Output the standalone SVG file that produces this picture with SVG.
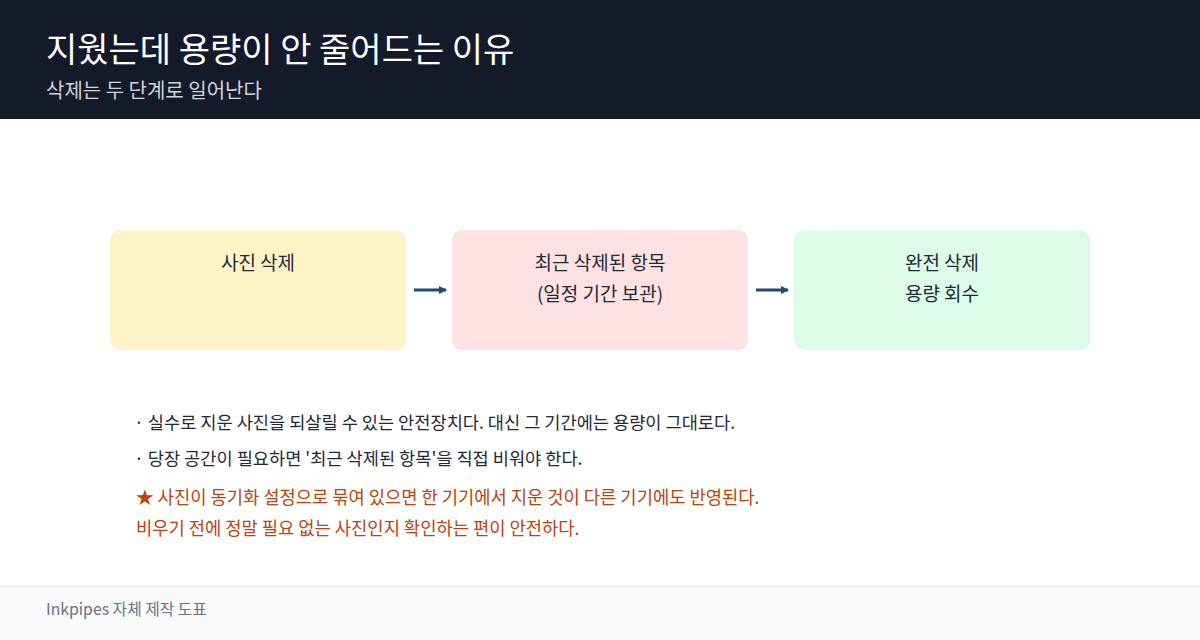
<svg xmlns="http://www.w3.org/2000/svg" width="1200" height="640" viewBox="0 0 1200 640">
<style>
text{font-family:"Noto Sans CJK KR","Noto Sans",sans-serif}
.node{font-size:19px;fill:#1f2937;text-anchor:middle}
.note{font-size:17.6px;fill:#1f2937}
.warn{font-size:17.7px;fill:#c2410c}
.edge{stroke:#1e4a78;stroke-width:3;fill:none}
</style>
<defs>
<marker id="ah" markerWidth="8" markerHeight="8" refX="7" refY="4" orient="auto" markerUnits="userSpaceOnUse"><path d="M0,0 L8,4 L0,8 Z" fill="#1e4a78"/></marker>
</defs>
<rect width="1200" height="640" fill="#ffffff"/>
<g id="header">
<rect width="1200" height="119" fill="#131a2a"/>
<text x="46" y="62" font-size="34" fill="#ffffff">지웠는데 용량이 안 줄어드는 이유</text>
<text x="46" y="98" font-size="20" fill="#d1d5db">삭제는 두 단계로 일어난다</text>
</g>
<g id="node-delete">
<rect x="110" y="230" width="296" height="120" rx="10" fill="#fef3c7"/>
<text class="node" x="258" y="270">사진 삭제</text>
</g>
<g id="node-recent">
<rect x="452" y="230" width="296" height="120" rx="10" fill="#fee2e2"/>
<text class="node" x="600" y="270">최근 삭제된 항목</text>
<text class="node" x="600" y="301">(일정 기간 보관)</text>
</g>
<g id="node-final">
<rect x="794" y="230" width="296" height="120" rx="10" fill="#dcfce7"/>
<text class="node" x="942" y="270">완전 삭제</text>
<text class="node" x="942" y="301">용량 회수</text>
</g>
<g id="connectors">
<line class="edge" x1="414" y1="290" x2="446" y2="290" marker-end="url(#ah)"/>
<line class="edge" x1="756" y1="290" x2="788" y2="290" marker-end="url(#ah)"/>
</g>
<g id="notes">
<text class="note" x="134" y="429">· 실수로 지운 사진을 되살릴 수 있는 안전장치다. 대신 그 기간에는 용량이 그대로다.</text>
<text class="note" x="134" y="465">· 당장 공간이 필요하면 '최근 삭제된 항목'을 직접 비워야 한다.</text>
<text class="warn" x="136" y="504">★ 사진이 동기화 설정으로 묶여 있으면 한 기기에서 지운 것이 다른 기기에도 반영된다.</text>
<text class="warn" x="136" y="535">비우기 전에 정말 필요 없는 사진인지 확인하는 편이 안전하다.</text>
</g>
<g id="footer">
<rect x="0" y="586" width="1200" height="54" fill="#f8fafc"/>
<line x1="0" y1="586.5" x2="1200" y2="586.5" stroke="#e5e7eb"/>
<text x="46" y="615" font-size="15.8" fill="#6b7280">Inkpipes 자체 제작 도표</text>
</g>
</svg>
